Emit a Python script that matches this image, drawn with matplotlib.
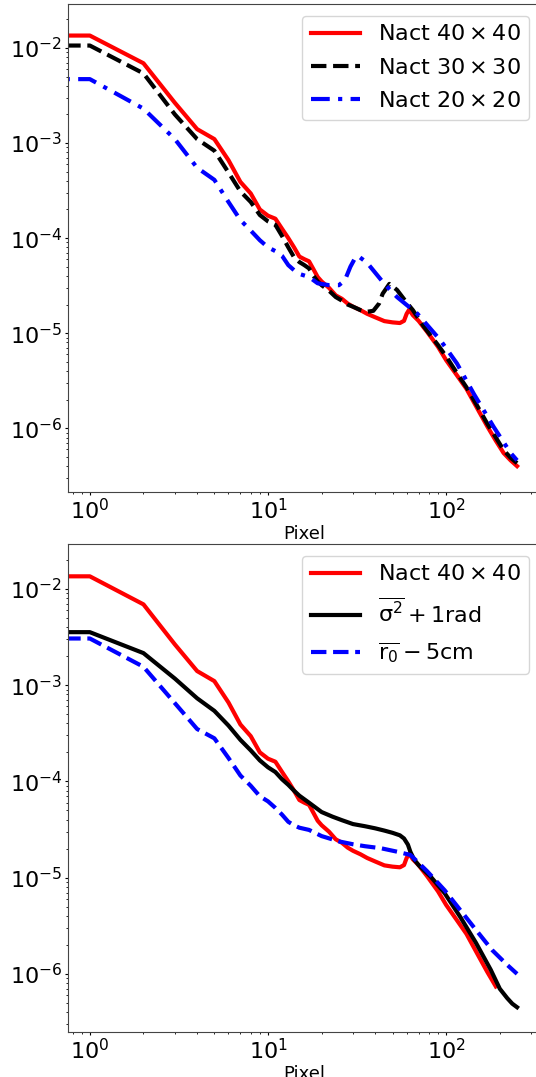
import numpy as np
import matplotlib
matplotlib.use("Agg")
import matplotlib.pyplot as plt

plt.rcParams['mathtext.default'] = 'regular'

# ---------------- top panel data ----------------
x_n40 = [0, 1, 2, 3, 4, 5, 6, 7, 8, 9, 10, 11, 12, 13, 14, 15, 16, 17, 18, 19, 20,
         22, 24, 26, 28, 30, 33, 36, 40, 45, 50, 55, 58, 60, 62, 65, 70, 78, 90,
         100, 115, 130, 150, 170, 190, 210, 230, 250]
y_n40 = [1.36e-2, 1.35e-2, 6.9e-3, 2.65e-3, 1.4e-3, 1.1e-3, 6.6e-4, 3.9e-4, 2.95e-4,
         2.0e-4, 1.72e-4, 1.6e-4, 1.25e-4, 1.0e-4, 8.0e-5, 6.4e-5, 6.0e-5, 5.7e-5,
         4.7e-5, 3.9e-5, 3.5e-5, 3.0e-5, 2.5e-5, 2.3e-5, 2.05e-5, 1.9e-5, 1.75e-5,
         1.6e-5, 1.47e-5, 1.34e-5, 1.3e-5, 1.28e-5, 1.35e-5, 1.6e-5, 1.77e-5, 1.55e-5,
         1.35e-5, 1.04e-5, 7.2e-6, 5.2e-6, 3.6e-6, 2.6e-6, 1.6e-6, 1.05e-6, 7.4e-7,
         5.5e-7, 4.6e-7, 4.0e-7]

x_n30 = [0, 1, 2, 3, 4, 5, 6, 7, 8, 9, 10, 11, 12, 13, 14, 15, 16, 17, 18, 19, 20,
         22, 24, 26, 28, 30, 33, 36, 39, 42, 44, 48, 53, 60, 65, 75, 90, 100, 115,
         130, 150, 170, 190, 210, 230, 250]
y_n30 = [1.06e-2, 1.06e-2, 5.4e-3, 2.0e-3, 1.1e-3, 8.3e-4, 4.9e-4, 3.1e-4, 2.4e-4,
         1.75e-4, 1.5e-4, 1.38e-4, 1.05e-4, 8.0e-5, 6.3e-5, 5.6e-5, 5.2e-5, 4.8e-5,
         4.0e-5, 3.5e-5, 3.2e-5, 2.8e-5, 2.4e-5, 2.2e-5, 2.0e-5, 1.9e-5, 1.75e-5,
         1.68e-5, 1.72e-5, 2.05e-5, 2.6e-5, 3.3e-5, 2.85e-5, 2.1e-5, 1.75e-5, 1.17e-5,
         7.5e-6, 5.7e-6, 3.8e-6, 2.7e-6, 1.7e-6, 1.12e-6, 8.0e-7, 5.9e-7, 4.9e-7, 4.3e-7]

x_n20 = [0, 1, 2, 3, 4, 5, 6, 7, 8, 9, 10, 11, 12, 13, 14, 15, 17, 19, 22, 25, 27,
         29, 31, 32, 36, 45, 53, 69, 93, 115, 143, 185, 230, 250]
y_n20 = [4.7e-3, 4.7e-3, 2.3e-3, 1.1e-3, 5.5e-4, 4.1e-4, 2.4e-4, 1.55e-4, 1.2e-4,
         9.5e-5, 8.0e-5, 7.3e-5, 6.5e-5, 5.2e-5, 4.6e-5, 4.2e-5, 3.9e-5, 3.35e-5,
         3.2e-5, 3.2e-5, 3.6e-5, 5.0e-5, 6.3e-5, 6.5e-5, 5.5e-5, 3.3e-5, 2.4e-5,
         1.6e-5, 8.4e-6, 4.8e-6, 2.3e-6, 1.03e-6, 5.5e-7, 4.6e-7]

# ---------------- bottom panel data ----------------
x_sig = [0, 1, 2, 3, 4, 5, 6, 7, 8, 9, 10, 11, 12, 13, 14, 15, 17, 20, 23, 26, 30,
         35, 40, 45, 50, 55, 58, 61, 63, 66, 70, 82, 98, 120, 147, 178, 200, 220,
         235, 250]
y_sig = [3.55e-3, 3.55e-3, 2.15e-3, 1.17e-3, 7.3e-4, 5.4e-4, 3.8e-4, 2.7e-4, 2.1e-4,
         1.65e-4, 1.4e-4, 1.25e-4, 1.05e-4, 9.2e-5, 8.0e-5, 7.1e-5, 6.0e-5, 4.8e-5,
         4.3e-5, 3.95e-5, 3.6e-5, 3.42e-5, 3.25e-5, 3.08e-5, 2.92e-5, 2.75e-5,
         2.55e-5, 2.2e-5, 1.85e-5, 1.55e-5, 1.35e-5, 1.02e-5, 6.9e-6, 3.9e-6, 2.1e-6,
         1.1e-6, 7.0e-7, 5.6e-7, 4.9e-7, 4.5e-7]

x_r0 = [0, 1, 2, 3, 4, 5, 6, 7, 8, 9, 10, 11, 12, 13, 14, 15, 17, 20, 25, 30, 35,
        43, 53, 63, 68, 78, 98, 120, 147, 181, 220, 250]
y_r0 = [3.05e-3, 3.05e-3, 1.55e-3, 6.5e-4, 3.5e-4, 2.8e-4, 1.75e-4, 1.15e-4, 9.0e-5,
        7.0e-5, 6.2e-5, 5.3e-5, 4.5e-5, 3.8e-5, 3.5e-5, 3.3e-5, 3.13e-5, 2.7e-5,
        2.38e-5, 2.22e-5, 2.12e-5, 2.02e-5, 1.86e-5, 1.72e-5, 1.5e-5, 1.17e-5, 7.4e-6,
        4.6e-6, 2.86e-6, 1.77e-6, 1.24e-6, 1.0e-6]

red_cut = 200  # 40x40 curve in lower panel stops here

labels_top = [r'Nact $40\times40$', r'Nact $30\times30$', r'Nact $20\times20$']
labels_bot = [r'Nact $40\times40$', r'$\overline{\sigma^2} + 1rad$', r'$\overline{r_0} - 5cm$']

W, H = 536, 1077
fig = plt.figure(figsize=(W / 100, H / 100), dpi=100)
ax1 = fig.add_axes([68.4 / W, (H - 492) / H, 472 / W, 487.6 / H])
ax2 = fig.add_axes([68.4 / W, (H - 1032) / H, 472 / W, 487.6 / H])

lw = 3
ax1.plot(x_n40, y_n40, color='red', lw=lw, ls='-', label=labels_top[0])
ax1.plot(x_n30, y_n30, color='black', lw=lw, ls='--', label=labels_top[1])
ax1.plot(x_n20, y_n20, color='blue', lw=lw, ls=(0, (4.5, 2, 1, 2)), label=labels_top[2])

xr = np.array(x_n40)
yr = np.array(y_n40)
m = xr <= red_cut
ax2.plot(xr[m], yr[m], color='red', lw=lw, ls='-', label=labels_bot[0])
ax2.plot(x_sig, y_sig, color='black', lw=lw, ls='-', label=labels_bot[1])
ax2.plot(x_r0, y_r0, color='blue', lw=lw, ls='--', label=labels_bot[2])

ylims = [(10 ** -6.67, 10 ** -1.542), (10 ** -6.604, 10 ** -1.538)]
for ax, yl in zip([ax1, ax2], ylims):
    ax.set_xscale('log')
    ax.set_yscale('log')
    ax.set_xlim(0.758, 338)
    ax.set_ylim(*yl)
    ax.tick_params(axis='both', which='major', labelsize=16, length=2.5, pad=2)
    ax.tick_params(axis='both', which='minor', length=1.5)
    for s in ax.spines.values():
        s.set_color('#444444')
    ax.set_xlabel('Pixel', fontsize=13, labelpad=1)
    ax.legend(loc='upper right', fontsize=16, labelspacing=0.6, handlelength=2.2)

fig.savefig('out.png', dpi=100)
